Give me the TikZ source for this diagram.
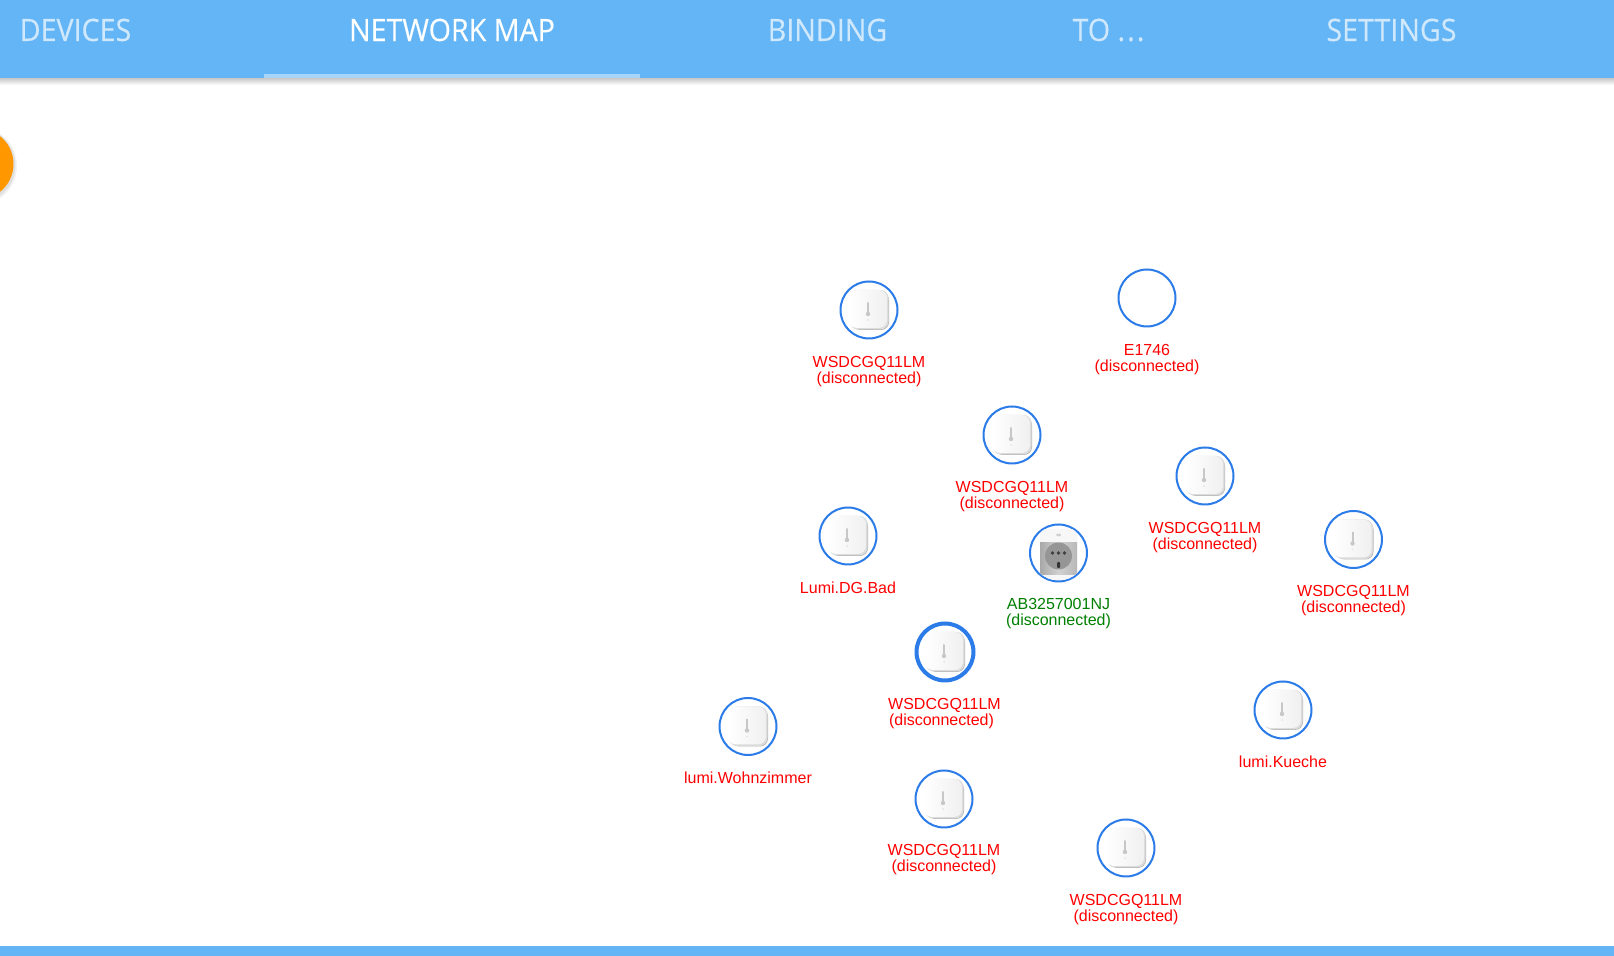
\documentclass[tikz,border=0pt]{standalone}
\usepackage{fontspec}
\setmainfont{Liberation Sans}
\newfontfamily\tabfont[FakeStretch=0.93,FakeBold=0.25]{Open Sans}
\definecolor{barblue}{HTML}{64B5F6}
\definecolor{ringblue}{HTML}{2B7CE9}
\definecolor{tabdim}{HTML}{D0E8FC}
\definecolor{tabline}{HTML}{A8D4F8}
\definecolor{fabcolor}{HTML}{FF9800}
\definecolor{plugdark}{HTML}{969696}
\tikzset{
  tabtext/.style={inner sep=0pt, text=tabdim, font=\tabfont\fontsize{15.4}{18}\selectfont},
  devring/.style={circle, draw=ringblue, fill=white, line width=1pt, minimum size=28.5pt, inner sep=0pt},
  devlabel/.style={inner sep=0pt, align=center, text=red, font=\fontsize{8}{8}\selectfont},
  sensoricon/.pic={
    \fill [black!30, rounded corners=4pt] (-17,-18) rectangle (20,20);
    \fill [black!14, rounded corners=4pt] (-19,-20) rectangle (19.5,19.5);
    \shade [left color=white, right color=black!6, rounded corners=4pt] (-20,-20) rectangle (18,18);
    \draw [black!22, line width=1pt, line cap=round] (-1,-7) -- (-1,3);
    \fill [black!22] (-1,4) circle (2.2);
    \fill [black!10] (-1,10) circle (1);
  },
  plugicon/.pic={
    \fill [black!3, rounded corners=3pt] (-18.5,-24) rectangle (18.5,27);
    \fill [black!20] (-1,-18) circle (1.5) (1,-18) circle (1.5);
    \shade [left color=black!34, right color=black!28, middle color=black!18] (-18.5,-10) rectangle (18.5,22);
    \fill [plugdark] (0,3) circle (13.5);
    \fill [black!75] (-6,0) circle (1.8);
    \fill [black!75] (0,0) circle (1.8);
    \fill [black!75] (6,0) circle (1.8);
    \fill [black!80, rounded corners=0.5pt] (-1.5,9) rectangle (1.5,15);
  }
}
\begin{document}
\begin{tikzpicture}[x=0.5pt, y=-0.5pt]
\useasboundingbox (0,0) rectangle (1614,956);
\fill [white] (0,0) rectangle (1614,956);
% top bar
\shade [top color=black!22, bottom color=white] (0,78) rectangle (1614,85);
\fill [barblue] (0,0) rectangle (1614,78);
\fill [tabline] (264,74) rectangle (640,78);
\node [tabtext] (tabdevices) at (75.5,30) {DEVICES};
\node [tabtext, text=white] (tabmap) at (452,30) {NETWORK MAP};
\node [tabtext] (tabbinding) at (827.5,30) {BINDING};
\node [tabtext] (tabto) at (1108.5,30) {TO .\kern1pt.\kern1pt.};
\node [tabtext] (tabsettings) at (1391.5,30) {SETTINGS};
% bottom bar
\fill [barblue] (0,946) rectangle (1614,956);
% round button
\fill [black, opacity=0.05] (-22,166) circle (39);
\fill [black, opacity=0.07] (-22,165.5) circle (37.5);
\fill [fabcolor] (-22,164) circle (35.5);
% devices
\node [devring] (door) at (869,310) {};
\pic at (door) {sensoricon};
\node [devlabel] (doorlabel) at (869,371.5) {WSDCGQ11LM\\(disconnected)};
\node [devring] (remote) at (1147,298) {};
\node [devlabel] (remotelabel) at (1147,359.5) {E1746\\(disconnected)};
\node [devring] (upper) at (1012,435) {};
\pic at (upper) {sensoricon};
\node [devlabel] (upperlabel) at (1012,496.5) {WSDCGQ11LM\\(disconnected)};
\node [devring] (middle) at (1205,476) {};
\pic at (middle) {sensoricon};
\node [devlabel] (middlelabel) at (1205,537.5) {WSDCGQ11LM\\(disconnected)};
\node [devring] (bad) at (848,536) {};
\pic at (bad) {sensoricon};
\node [devlabel] (badlabel) at (848,588) {Lumi.DG.Bad};
\node [devring] (plug) at (1058.5,553) {};
\begin{scope}
\clip (plug) circle (27.5);
\pic at (plug) {plugicon};
\end{scope}
\node [devlabel, text=green!50!black] (pluglabel) at (1058.5,613.5) {AB3257001NJ\\(disconnected)};
\node [devring] (right) at (1353.5,539.5) {};
\pic at (right) {sensoricon};
\node [devlabel] (rightlabel) at (1353.5,600.5) {WSDCGQ11LM\\(disconnected)};
\node [devring, line width=2pt, minimum size=28.5pt] (picked) at (945,652) {};
\pic at (picked) {sensoricon};
\node [devlabel] (pickedlabel) at (944.5,713.5) {WSDCGQ11LM\\(disconnected)\hspace*{3pt}};
\node [devring] (wohn) at (748,726.5) {};
\pic at (wohn) {sensoricon};
\node [devlabel] (wohnlabel) at (748,778) {lumi.Wohnzimmer};
\node [devring] (kueche) at (1283,710) {};
\pic at (kueche) {sensoricon};
\node [devlabel] (kuechelabel) at (1283,762) {lumi.Kueche};
\node [devring] (lower) at (944,799) {};
\pic at (lower) {sensoricon};
\node [devlabel] (lowerlabel) at (944,859.5) {WSDCGQ11LM\\(disconnected)};
\node [devring] (bottom) at (1126,848) {};
\pic at (bottom) {sensoricon};
\node [devlabel] (bottomlabel) at (1126,909.5) {WSDCGQ11LM\\(disconnected)};
\end{tikzpicture}
\end{document}
